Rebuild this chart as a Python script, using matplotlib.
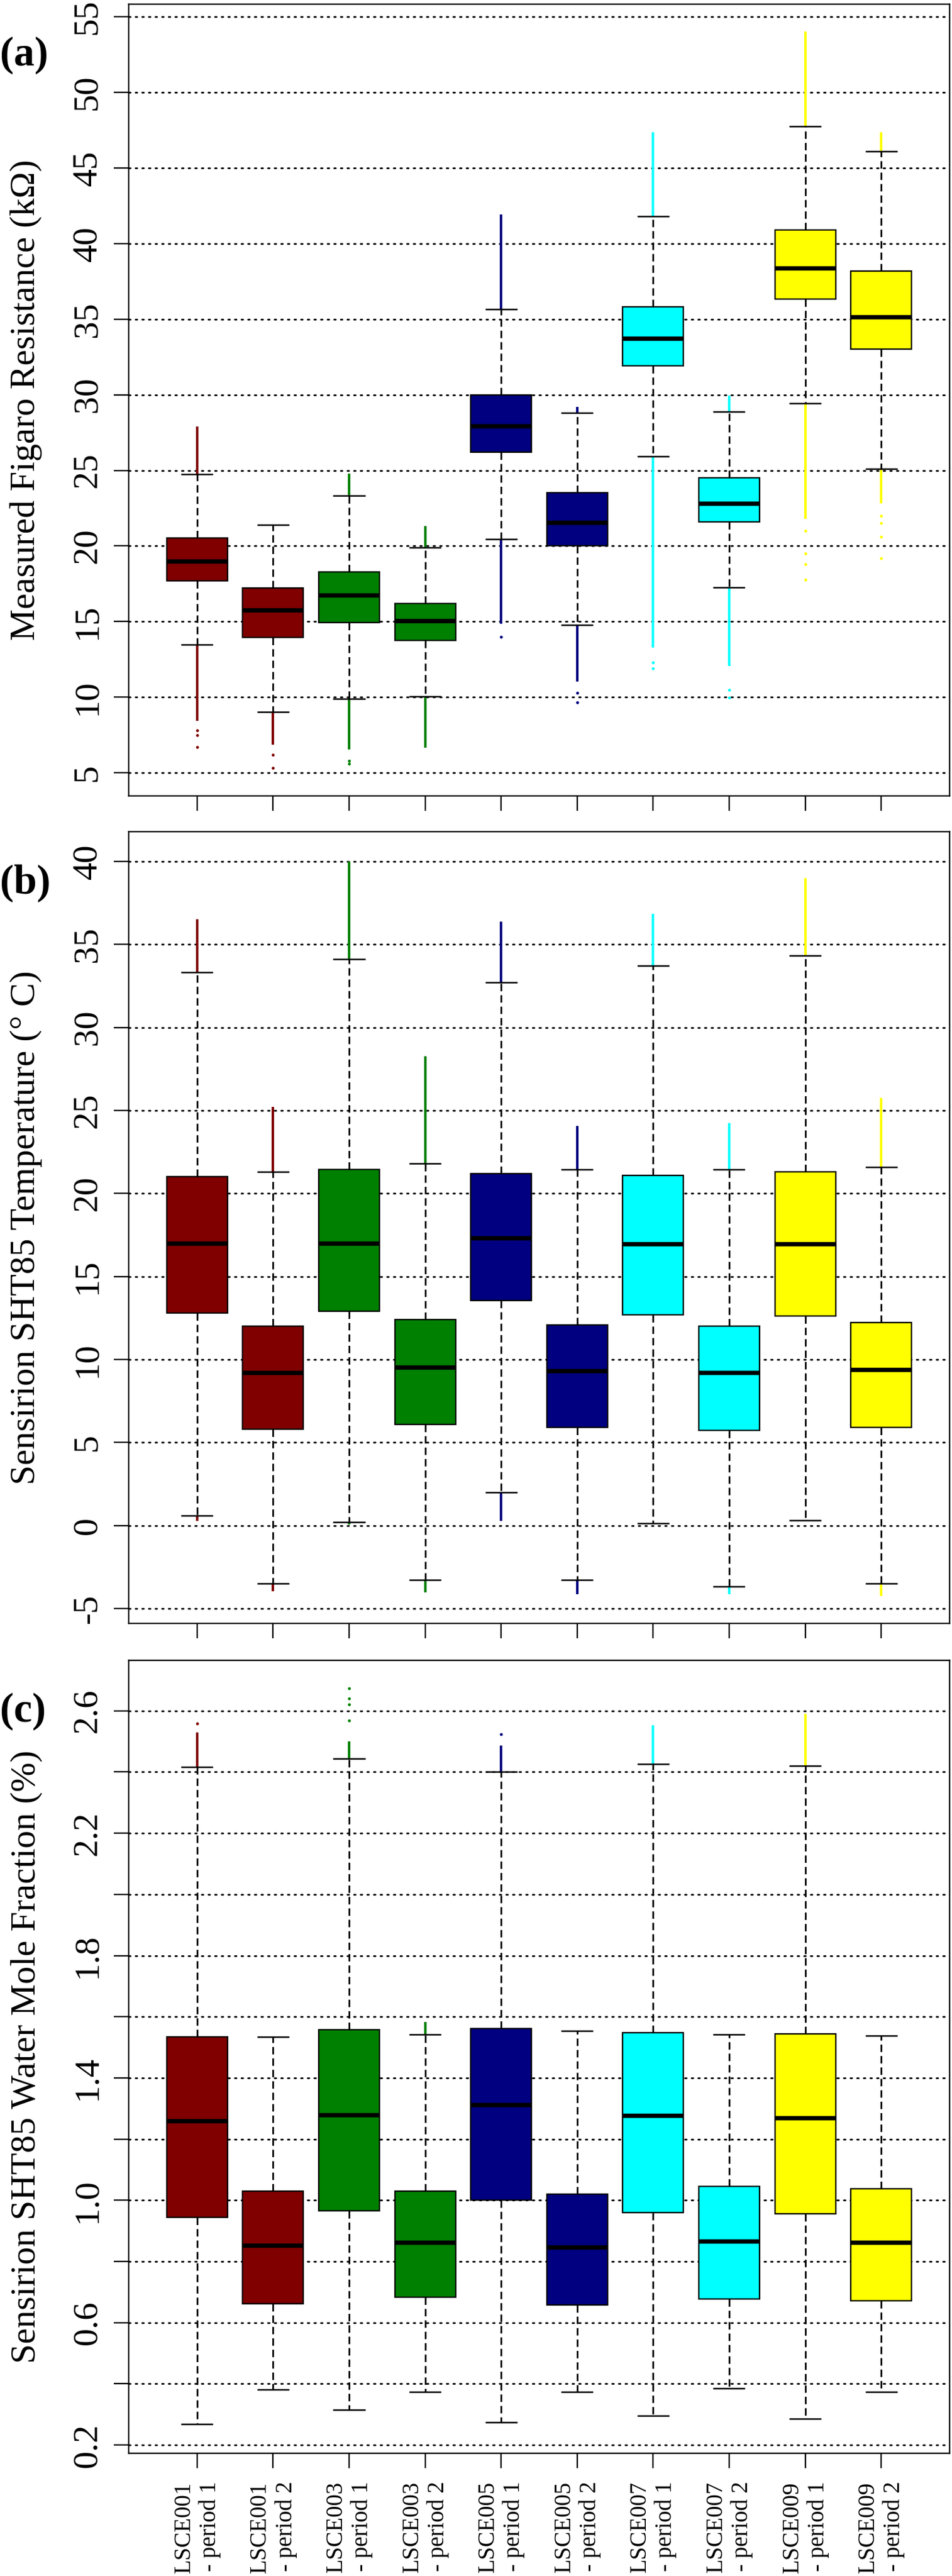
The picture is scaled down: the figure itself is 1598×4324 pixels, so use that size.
import matplotlib
matplotlib.use("Agg")
import matplotlib.pyplot as plt

plt.rcParams['font.family'] = ['Liberation Serif', 'DejaVu Serif']

# ---------------------------------------------------------------------------
# Data
# ---------------------------------------------------------------------------
labels = ["LSCE001\n - period 1", "LSCE001\n - period 2",
          "LSCE003\n - period 1", "LSCE003\n - period 2",
          "LSCE005\n - period 1", "LSCE005\n - period 2",
          "LSCE007\n - period 1", "LSCE007\n - period 2",
          "LSCE009\n - period 1", "LSCE009\n - period 2"]
colors = ["#800000", "#800000", "#008000", "#008000", "#000080",
          "#000080", "#00ffff", "#00ffff", "#ffff00", "#ffff00"]

# (a) Figaro resistance (kOhm)
res_q1  = [17.69, 13.95, 14.92, 13.77, 26.19, 20.01, 31.91, 21.61, 36.31, 33.02]
res_med = [19.01, 15.75, 16.75, 15.06, 27.92, 21.54, 33.74, 22.82, 38.39, 35.13]
res_q3  = [20.53, 17.21, 18.28, 16.20, 29.97, 23.52, 35.83, 24.52, 40.89, 38.18]
res_lo  = [13.46, 9.02, 9.89, 10.06, 20.46, 14.78, 25.94, 17.24, 29.45, 25.08]
res_hi  = [24.73, 21.40, 23.31, 19.91, 35.65, 28.79, 41.82, 28.89, 47.75, 46.09]
res_out_hi = [27.88, None, 24.80, 21.33, 41.93, 29.20, 47.34, 29.93, 54.03, 47.37]
res_out_lo = [8.43, 6.87, 6.53, 6.66, 14.85, 11.03, 13.29, 12.07, 21.78, 22.82]
res_stray_box = [1, 1, 1, 2, 2, 3, 3, 5, 6, 6, 7, 7, 8, 8, 9, 9, 9, 9, 10, 10, 10, 10]
res_stray_val = [7.8, 7.5, 6.70, 6.2, 5.31, 5.8, 5.59, 13.98, 10.3, 9.65, 12.3, 11.9,
                 10.5, 9.99, 21.0, 19.5, 18.8, 17.79, 22.0, 21.5, 20.6, 19.18]

# (b) SHT85 temperature (deg C)
tmp_q1  = [12.81, 5.80, 12.91, 6.09, 13.54, 5.90, 12.69, 5.71, 12.62, 5.90]
tmp_med = [17.01, 9.21, 17.01, 9.53, 17.33, 9.31, 16.95, 9.21, 16.95, 9.40]
tmp_q3  = [21.02, 11.99, 21.43, 12.40, 21.21, 12.09, 21.09, 11.99, 21.31, 12.21]
tmp_lo  = [0.59, -3.48, 0.21, -3.29, 2.01, -3.29, 0.12, -3.67, 0.31, -3.48]
tmp_hi  = [33.31, 21.31, 34.10, 21.81, 32.71, 21.43, 33.72, 21.43, 34.32, 21.59]
tmp_out_hi = [36.53, 25.22, 40.00, 28.25, 36.37, 24.05, 36.84, 24.24, 38.99, 25.76]
tmp_out_lo = [0.28, -3.95, 0.06, -4.05, 0.28, -4.14, None, -4.14, None, -4.24]

# (c) SHT85 water mole fraction (%)
h2o_q1  = [0.945, 0.662, 0.966, 0.684, 1.000, 0.658, 0.960, 0.678, 0.956, 0.672]
h2o_med = [1.260, 0.852, 1.279, 0.862, 1.312, 0.847, 1.277, 0.867, 1.269, 0.862]
h2o_q3  = [1.534, 1.030, 1.558, 1.030, 1.562, 1.021, 1.548, 1.045, 1.544, 1.038]
h2o_lo  = [0.269, 0.381, 0.316, 0.374, 0.275, 0.373, 0.296, 0.386, 0.285, 0.374]
h2o_hi  = [2.416, 1.534, 2.443, 1.542, 2.401, 1.553, 2.426, 1.542, 2.421, 1.538]
h2o_out_hi = [2.530, None, 2.500, 1.582, 2.487, None, 2.552, None, 2.589, None]
h2o_out_lo = [None] * 10
h2o_stray_box = [1, 3, 3, 3, 3, 5]
h2o_stray_val = [2.559, 2.569, 2.620, 2.640, 2.674, 2.523]

res_ticks = [5, 10, 15, 20, 25, 30, 35, 40, 45, 50, 55]
tmp_ticks = [-5, 0, 5, 10, 15, 20, 25, 30, 35, 40]
h2o_ticks = [0.2, 0.4, 0.6, 0.8, 1.0, 1.2, 1.4, 1.6, 1.8, 2.0, 2.2, 2.4, 2.6]
h2o_ticklabels = ["0.2", "", "0.6", "", "1.0", "", "1.4", "", "1.8", "", "2.2", "", "2.6"]

positions = list(range(1, len(labels) + 1))

W, H = 1598, 4324
fig = plt.figure(figsize=(W / 100, H / 100), dpi=100)


def draw_panel(rect, q1, med, q3, lo, hi, out_hi, out_lo, ylim, yticks, yticklabels,
               ylabel, tag, stray_box=(), stray_val=(), xlabels=False):
    ax = fig.add_axes(rect)
    stats = [dict(q1=a, med=m, q3=b, whislo=l, whishi=h)
             for a, m, b, l, h in zip(q1, med, q3, lo, hi)]
    bp = ax.bxp(stats, positions=positions, widths=0.8, capwidths=0.4,
                patch_artist=True, showfliers=False,
                boxprops=dict(edgecolor="black", linewidth=1.7),
                medianprops=dict(color="black", linewidth=5.3, solid_capstyle="butt"),
                whiskerprops=dict(color="black", linewidth=2.0, linestyle=(0, (4.5, 2.4))),
                capprops=dict(color="black", linewidth=1.8))
    for patch, c in zip(bp["boxes"], colors):
        patch.set_facecolor(c)

    # outliers are so dense they read as lines
    for x, c, cap, top in zip(positions, colors, hi, out_hi):
        if top is not None:
            ax.vlines(x, cap, top, color=c, linewidth=3, zorder=1.5)
    for x, c, cap, bot in zip(positions, colors, lo, out_lo):
        if bot is not None:
            ax.vlines(x, bot, cap, color=c, linewidth=3, zorder=1.5)
    for b, v in zip(stray_box, stray_val):
        ax.plot(b, v, "o", color=colors[b - 1], markersize=3.5, markeredgewidth=0, zorder=1.5)

    ax.set_xlim(0.1, 10.9)
    ax.set_ylim(*ylim)
    ax.set_yticks(yticks)
    ax.set_yticklabels(yticklabels, rotation=90, va="center")
    ax.grid(axis="y", color="black", linestyle=(0, (1.0, 3.0)), linewidth=2.0,
            dash_capstyle="round")
    ax.set_axisbelow(True)
    ax.set_xticks(positions)
    if xlabels:
        ax.set_xticklabels(labels, rotation=90, va="top", ha="center",
                           multialignment="right", fontsize=28, linespacing=1.2)
    else:
        ax.set_xticklabels([])
    ax.tick_params(axis="both", length=18, width=1.7, labelsize=43)
    ax.tick_params(axis="y", pad=12)
    ax.tick_params(axis="x", pad=16, labelsize=28)
    for s in ax.spines.values():
        s.set_linewidth(1.7)

    cy = rect[1] + rect[3] / 2
    fig.text(44 / W, cy, ylabel, rotation=90, ha="center", va="center", fontsize=43)
    fig.text(0.0, rect[1] + rect[3] - 86 / H, tag, ha="left", va="center",
             fontsize=50, fontweight="bold")
    return ax


left, width = 216 / W, (1594 - 216) / W

draw_panel([left, 1 - 1336 / H, width, (1336 - 7) / H],
           res_q1, res_med, res_q3, res_lo, res_hi, res_out_hi, res_out_lo,
           (3.47, 55.83), res_ticks, [str(t) for t in res_ticks],
           "Measured Figaro Resistance (k\u03a9)", "(a)",
           res_stray_box, res_stray_val)

draw_panel([left, 1 - 2725 / H, width, (2725 - 1396) / H],
           tmp_q1, tmp_med, tmp_q3, tmp_lo, tmp_hi, tmp_out_hi, tmp_out_lo,
           (-5.9, 41.79), tmp_ticks, [str(t) for t in tmp_ticks],
           "Sensirion SHT85 Temperature (\u00b0 C)", "(b)")

draw_panel([left, 1 - 4118 / H, width, (4118 - 2787) / H],
           h2o_q1, h2o_med, h2o_q3, h2o_lo, h2o_hi, h2o_out_hi, h2o_out_lo,
           (0.173, 2.765), h2o_ticks, h2o_ticklabels,
           "Sensirion SHT85 Water Mole Fraction (%)", "(c)",
           h2o_stray_box, h2o_stray_val, xlabels=True)

fig.savefig("out.png", dpi=100)
